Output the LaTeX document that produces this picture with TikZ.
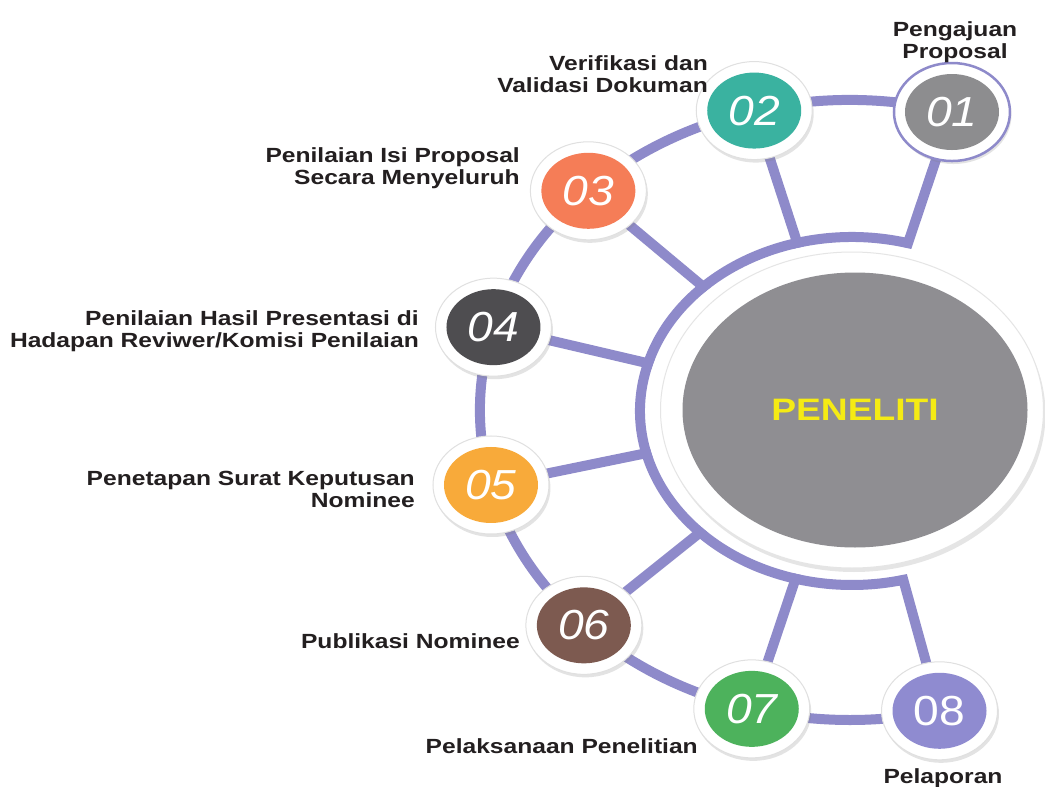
\documentclass[tikz,border=0pt]{standalone}
\usepackage{fontspec}
\usetikzlibrary{shapes.geometric,calc,shadows}
\newfontfamily\labfont{Liberation Sans}[FakeStretch=1.2]
\newfontfamily\numfont{Liberation Sans}[FakeStretch=1.1]
\definecolor{lav}{RGB}{142,138,202}
\definecolor{labc}{RGB}{35,31,32}
\definecolor{colA}{RGB}{141,141,143}
\definecolor{colB}{RGB}{58,178,160}
\definecolor{colC}{RGB}{245,125,87}
\definecolor{colD}{RGB}{78,77,80}
\definecolor{colE}{RGB}{248,170,58}
\definecolor{colF}{RGB}{125,90,80}
\definecolor{colG}{RGB}{77,178,92}
\definecolor{colH}{RGB}{143,139,208}
\definecolor{centergray}{RGB}{143,142,146}
\definecolor{yel}{RGB}{245,235,20}
\begin{document}
\begin{tikzpicture}[x=1pt,y=-1pt,
  chain/.style={draw=lav,line width=10pt},
  disc/.style={ellipse,fill=white,draw=black!12,line width=1pt,minimum width=116pt,minimum height=98pt,inner sep=0pt,
    drop shadow={shadow xshift=1.5pt,shadow yshift=-3pt,opacity=0.22}},
  core/.style={ellipse,minimum width=94pt,minimum height=76pt,inner sep=0pt,text=white,
    font=\numfont\fontsize{42}{42}\selectfont\itshape},
  lab/.style={font=\labfont\bfseries\fontsize{20.5}{22}\selectfont,text=labc,inner sep=0pt}]
\useasboundingbox (0,0) rectangle (1045,787);
\fill[white] (0,0) rectangle (1045,787);
% geometry
\coordinate (O) at (850,410);
\coordinate (C) at (852,411);
\coordinate (c1) at ($(O)+(286:370 and 310)$);
\coordinate (c2) at ($(O)+(255:370 and 310)$);
\coordinate (c3) at ($(O)+(225:370 and 310)$);
\coordinate (c4) at ($(O)+(195.5:370 and 310)$);
\coordinate (c5) at ($(O)+(166:370 and 310)$);
\coordinate (c6) at ($(O)+(136:370 and 310)$);
\coordinate (c7) at ($(O)+(105.4:370 and 310)$);
\coordinate (c8) at ($(O)+(76:370 and 310)$);
\coordinate (p1) at ($(C)+(285.3:212 and 174)$);
% outer chain
\draw[chain] (c1) arc[start angle=286,end angle=76,x radius=370,y radius=310];
% spokes
\foreach \i in {2,...,7}{\draw[chain] (c\i) -- (C);}
\fill[white] (C) ellipse[x radius=207,y radius=169];
% inner ring with spokes of 01 and 08
\draw[chain,line join=miter] (c1) -- (p1) arc[start angle=285.3,end angle=76,x radius=212,y radius=174] -- (c8);
% center
\node[ellipse,fill=white,draw=black!10,line width=1pt,minimum width=383pt,minimum height=316pt,inner sep=0pt,
  drop shadow={shadow xshift=2pt,shadow yshift=-4pt,opacity=0.2}] (ring) at (852,410) {};
\node[ellipse,fill=centergray,minimum width=345pt,minimum height=275pt,inner sep=0pt,text=yel,
  font=\labfont\bfseries\fontsize{31}{31}\selectfont] (core) at (855,410) {PENELITI};
% small nodes
\node[disc,draw=lav,line width=2.5pt] (o1) at (c1) {};
\node[core,fill=colA] (n1) at (c1) {01};
\node[disc] (o2) at (c2) {};
\node[core,fill=colB] (n2) at (c2) {02};
\node[disc] (o3) at (c3) {};
\node[core,fill=colC] (n3) at (c3) {03};
\node[disc] (o4) at (c4) {};
\node[core,fill=colD] (n4) at (c4) {04};
\node[disc] (o5) at (c5) {};
\node[core,fill=colE] (n5) at (c5) {05};
\node[disc] (o6) at (c6) {};
\node[core,fill=colF] (n6) at (c6) {06};
\node[disc] (o7) at (c7) {};
\node[core,fill=colG] (n7) at (c7) {07};
\node[disc] (o8) at (c8) {};
\node[core,fill=colH] (n8) at (c8) {\upshape 08};
% labels (base = last line)
\node[lab,anchor=base,align=center] (l1) at (955,58) {Pengajuan\\Proposal};
\node[lab,anchor=base east,align=right] (l2) at (708,92) {Verifikasi dan\\Validasi Dokuman};
\node[lab,anchor=base east,align=right] (l3) at (520,184) {Penilaian Isi Proposal\\Secara Menyeluruh};
\node[lab,anchor=base east,align=right] (l4) at (419,347) {Penilaian Hasil Presentasi di\\Hadapan Reviwer/Komisi Penilaian};
\node[lab,anchor=base east,align=right] (l5) at (415,507) {Penetapan Surat Keputusan\\Nominee};
\node[lab,anchor=base east] (l6) at (520,648) {Publikasi Nominee};
\node[lab,anchor=base east] (l7) at (698,753) {Pelaksanaan Penelitian};
\node[lab,anchor=base] (l8) at (943,783) {Pelaporan};
\end{tikzpicture}
\end{document}
